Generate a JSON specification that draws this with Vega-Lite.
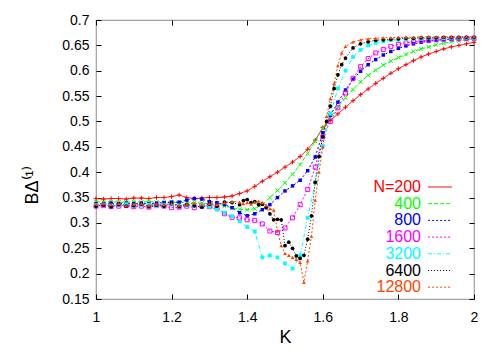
{
  "$schema": "https://vega.github.io/schema/vega-lite/v6.json",
  "width": 378,
  "height": 279,
  "autosize": "none",
  "padding": {"left": 96, "top": 20, "right": 26, "bottom": 51},
  "config": {
    "font": "Liberation Sans",
    "view": {"stroke": "#a0a0a0", "strokeWidth": 1.2},
    "axis": {"grid": false, "domain": false, "tickColor": "#000000", "tickSize": -5, "labelColor": "#000000", "titleColor": "#000000", "labelFontSize": 14, "titleFontSize": 18, "titleFontWeight": "normal", "labelFlush": false},
    "point": {"size": 14, "strokeWidth": 1, "opacity": 1, "clip": true}
  },
  "resolve": {"axis": {"x": "independent", "y": "independent"}},
  "data": {"values": [
    {"s":"N=200","K":1.00,"B":0.348},{"s":"N=200","K":1.02,"B":0.347},{"s":"N=200","K":1.04,"B":0.348},{"s":"N=200","K":1.06,"B":0.348},{"s":"N=200","K":1.08,"B":0.347},{"s":"N=200","K":1.10,"B":0.349},{"s":"N=200","K":1.12,"B":0.349},{"s":"N=200","K":1.14,"B":0.348},{"s":"N=200","K":1.16,"B":0.350},{"s":"N=200","K":1.18,"B":0.350},{"s":"N=200","K":1.20,"B":0.352},{"s":"N=200","K":1.22,"B":0.355},{"s":"N=200","K":1.24,"B":0.350},{"s":"N=200","K":1.26,"B":0.348},{"s":"N=200","K":1.28,"B":0.349},{"s":"N=200","K":1.30,"B":0.350},{"s":"N=200","K":1.32,"B":0.350},{"s":"N=200","K":1.34,"B":0.351},{"s":"N=200","K":1.36,"B":0.353},{"s":"N=200","K":1.38,"B":0.358},{"s":"N=200","K":1.40,"B":0.363},{"s":"N=200","K":1.42,"B":0.372},{"s":"N=200","K":1.44,"B":0.382},{"s":"N=200","K":1.46,"B":0.391},{"s":"N=200","K":1.48,"B":0.400},{"s":"N=200","K":1.50,"B":0.410},{"s":"N=200","K":1.52,"B":0.420},{"s":"N=200","K":1.54,"B":0.431},{"s":"N=200","K":1.56,"B":0.445},{"s":"N=200","K":1.58,"B":0.463},{"s":"N=200","K":1.60,"B":0.488},{"s":"N=200","K":1.62,"B":0.502},{"s":"N=200","K":1.64,"B":0.515},{"s":"N=200","K":1.66,"B":0.528},{"s":"N=200","K":1.68,"B":0.541},{"s":"N=200","K":1.70,"B":0.553},{"s":"N=200","K":1.72,"B":0.564},{"s":"N=200","K":1.74,"B":0.575},{"s":"N=200","K":1.76,"B":0.585},{"s":"N=200","K":1.78,"B":0.595},{"s":"N=200","K":1.80,"B":0.604},{"s":"N=200","K":1.82,"B":0.612},{"s":"N=200","K":1.84,"B":0.620},{"s":"N=200","K":1.86,"B":0.627},{"s":"N=200","K":1.88,"B":0.633},{"s":"N=200","K":1.90,"B":0.638},{"s":"N=200","K":1.92,"B":0.643},{"s":"N=200","K":1.94,"B":0.647},{"s":"N=200","K":1.96,"B":0.650},{"s":"N=200","K":1.98,"B":0.653},{"s":"N=200","K":2.00,"B":0.656},
    {"s":"400","K":1.00,"B":0.342},{"s":"400","K":1.02,"B":0.341},{"s":"400","K":1.04,"B":0.342},{"s":"400","K":1.06,"B":0.341},{"s":"400","K":1.08,"B":0.341},{"s":"400","K":1.10,"B":0.342},{"s":"400","K":1.12,"B":0.341},{"s":"400","K":1.14,"B":0.342},{"s":"400","K":1.16,"B":0.341},{"s":"400","K":1.18,"B":0.342},{"s":"400","K":1.20,"B":0.341},{"s":"400","K":1.22,"B":0.340},{"s":"400","K":1.24,"B":0.341},{"s":"400","K":1.26,"B":0.340},{"s":"400","K":1.28,"B":0.339},{"s":"400","K":1.30,"B":0.338},{"s":"400","K":1.32,"B":0.336},{"s":"400","K":1.34,"B":0.333},{"s":"400","K":1.36,"B":0.330},{"s":"400","K":1.38,"B":0.327},{"s":"400","K":1.40,"B":0.326},{"s":"400","K":1.42,"B":0.328},{"s":"400","K":1.44,"B":0.336},{"s":"400","K":1.46,"B":0.350},{"s":"400","K":1.48,"B":0.364},{"s":"400","K":1.50,"B":0.379},{"s":"400","K":1.52,"B":0.396},{"s":"400","K":1.54,"B":0.415},{"s":"400","K":1.56,"B":0.437},{"s":"400","K":1.58,"B":0.461},{"s":"400","K":1.60,"B":0.487},{"s":"400","K":1.62,"B":0.508},{"s":"400","K":1.64,"B":0.528},{"s":"400","K":1.66,"B":0.547},{"s":"400","K":1.68,"B":0.563},{"s":"400","K":1.70,"B":0.578},{"s":"400","K":1.72,"B":0.591},{"s":"400","K":1.74,"B":0.601},{"s":"400","K":1.76,"B":0.611},{"s":"400","K":1.78,"B":0.619},{"s":"400","K":1.80,"B":0.626},{"s":"400","K":1.82,"B":0.632},{"s":"400","K":1.84,"B":0.638},{"s":"400","K":1.86,"B":0.643},{"s":"400","K":1.88,"B":0.647},{"s":"400","K":1.90,"B":0.651},{"s":"400","K":1.92,"B":0.654},{"s":"400","K":1.94,"B":0.657},{"s":"400","K":1.96,"B":0.659},{"s":"400","K":1.98,"B":0.661},{"s":"400","K":2.00,"B":0.663},
    {"s":"800","K":1.00,"B":0.338},{"s":"800","K":1.02,"B":0.338},{"s":"800","K":1.04,"B":0.339},{"s":"800","K":1.06,"B":0.338},{"s":"800","K":1.08,"B":0.339},{"s":"800","K":1.10,"B":0.338},{"s":"800","K":1.12,"B":0.339},{"s":"800","K":1.14,"B":0.338},{"s":"800","K":1.16,"B":0.339},{"s":"800","K":1.18,"B":0.340},{"s":"800","K":1.20,"B":0.341},{"s":"800","K":1.22,"B":0.341},{"s":"800","K":1.24,"B":0.345},{"s":"800","K":1.26,"B":0.348},{"s":"800","K":1.28,"B":0.347},{"s":"800","K":1.30,"B":0.342},{"s":"800","K":1.32,"B":0.340},{"s":"800","K":1.34,"B":0.336},{"s":"800","K":1.36,"B":0.330},{"s":"800","K":1.38,"B":0.320},{"s":"800","K":1.40,"B":0.314},{"s":"800","K":1.42,"B":0.318},{"s":"800","K":1.44,"B":0.326},{"s":"800","K":1.46,"B":0.336},{"s":"800","K":1.48,"B":0.350},{"s":"800","K":1.50,"B":0.363},{"s":"800","K":1.52,"B":0.373},{"s":"800","K":1.54,"B":0.384},{"s":"800","K":1.56,"B":0.403},{"s":"800","K":1.58,"B":0.430},{"s":"800","K":1.60,"B":0.478},{"s":"800","K":1.62,"B":0.512},{"s":"800","K":1.64,"B":0.538},{"s":"800","K":1.66,"B":0.562},{"s":"800","K":1.68,"B":0.583},{"s":"800","K":1.70,"B":0.599},{"s":"800","K":1.72,"B":0.612},{"s":"800","K":1.74,"B":0.622},{"s":"800","K":1.76,"B":0.631},{"s":"800","K":1.78,"B":0.638},{"s":"800","K":1.80,"B":0.644},{"s":"800","K":1.82,"B":0.649},{"s":"800","K":1.84,"B":0.653},{"s":"800","K":1.86,"B":0.656},{"s":"800","K":1.88,"B":0.658},{"s":"800","K":1.90,"B":0.660},{"s":"800","K":1.92,"B":0.661},{"s":"800","K":1.94,"B":0.662},{"s":"800","K":1.96,"B":0.663},{"s":"800","K":1.98,"B":0.663},{"s":"800","K":2.00,"B":0.664},
    {"s":"1600","K":1.00,"B":0.333},{"s":"1600","K":1.02,"B":0.334},{"s":"1600","K":1.04,"B":0.332},{"s":"1600","K":1.06,"B":0.333},{"s":"1600","K":1.08,"B":0.334},{"s":"1600","K":1.10,"B":0.332},{"s":"1600","K":1.12,"B":0.333},{"s":"1600","K":1.14,"B":0.331},{"s":"1600","K":1.16,"B":0.334},{"s":"1600","K":1.18,"B":0.333},{"s":"1600","K":1.20,"B":0.330},{"s":"1600","K":1.22,"B":0.331},{"s":"1600","K":1.24,"B":0.333},{"s":"1600","K":1.26,"B":0.330},{"s":"1600","K":1.28,"B":0.333},{"s":"1600","K":1.30,"B":0.332},{"s":"1600","K":1.32,"B":0.330},{"s":"1600","K":1.34,"B":0.318},{"s":"1600","K":1.36,"B":0.311},{"s":"1600","K":1.38,"B":0.310},{"s":"1600","K":1.40,"B":0.306},{"s":"1600","K":1.42,"B":0.305},{"s":"1600","K":1.44,"B":0.298},{"s":"1600","K":1.46,"B":0.284},{"s":"1600","K":1.48,"B":0.281},{"s":"1600","K":1.50,"B":0.290},{"s":"1600","K":1.52,"B":0.310},{"s":"1600","K":1.54,"B":0.336},{"s":"1600","K":1.56,"B":0.366},{"s":"1600","K":1.58,"B":0.410},{"s":"1600","K":1.60,"B":0.470},{"s":"1600","K":1.62,"B":0.500},{"s":"1600","K":1.64,"B":0.527},{"s":"1600","K":1.66,"B":0.556},{"s":"1600","K":1.68,"B":0.585},{"s":"1600","K":1.70,"B":0.608},{"s":"1600","K":1.72,"B":0.624},{"s":"1600","K":1.74,"B":0.635},{"s":"1600","K":1.76,"B":0.642},{"s":"1600","K":1.78,"B":0.648},{"s":"1600","K":1.80,"B":0.652},{"s":"1600","K":1.82,"B":0.655},{"s":"1600","K":1.84,"B":0.657},{"s":"1600","K":1.86,"B":0.659},{"s":"1600","K":1.88,"B":0.660},{"s":"1600","K":1.90,"B":0.661},{"s":"1600","K":1.92,"B":0.662},{"s":"1600","K":1.94,"B":0.663},{"s":"1600","K":1.96,"B":0.663},{"s":"1600","K":1.98,"B":0.664},{"s":"1600","K":2.00,"B":0.664},
    {"s":"3200","K":1.00,"B":0.335},{"s":"3200","K":1.02,"B":0.336},{"s":"3200","K":1.04,"B":0.334},{"s":"3200","K":1.06,"B":0.335},{"s":"3200","K":1.08,"B":0.337},{"s":"3200","K":1.10,"B":0.334},{"s":"3200","K":1.12,"B":0.335},{"s":"3200","K":1.14,"B":0.336},{"s":"3200","K":1.16,"B":0.333},{"s":"3200","K":1.18,"B":0.335},{"s":"3200","K":1.20,"B":0.336},{"s":"3200","K":1.22,"B":0.334},{"s":"3200","K":1.24,"B":0.335},{"s":"3200","K":1.26,"B":0.333},{"s":"3200","K":1.28,"B":0.334},{"s":"3200","K":1.30,"B":0.332},{"s":"3200","K":1.32,"B":0.326},{"s":"3200","K":1.34,"B":0.320},{"s":"3200","K":1.36,"B":0.313},{"s":"3200","K":1.38,"B":0.303},{"s":"3200","K":1.40,"B":0.292},{"s":"3200","K":1.42,"B":0.283},{"s":"3200","K":1.44,"B":0.232},{"s":"3200","K":1.46,"B":0.236},{"s":"3200","K":1.48,"B":0.232},{"s":"3200","K":1.50,"B":0.220},{"s":"3200","K":1.52,"B":0.210},{"s":"3200","K":1.54,"B":0.236},{"s":"3200","K":1.56,"B":0.310},{"s":"3200","K":1.58,"B":0.380},{"s":"3200","K":1.60,"B":0.452},{"s":"3200","K":1.62,"B":0.515},{"s":"3200","K":1.64,"B":0.565},{"s":"3200","K":1.66,"B":0.600},{"s":"3200","K":1.68,"B":0.627},{"s":"3200","K":1.70,"B":0.641},{"s":"3200","K":1.72,"B":0.650},{"s":"3200","K":1.74,"B":0.655},{"s":"3200","K":1.76,"B":0.658},{"s":"3200","K":1.78,"B":0.660},{"s":"3200","K":1.80,"B":0.661},{"s":"3200","K":1.82,"B":0.662},{"s":"3200","K":1.84,"B":0.663},{"s":"3200","K":1.86,"B":0.663},{"s":"3200","K":1.88,"B":0.664},{"s":"3200","K":1.90,"B":0.664},{"s":"3200","K":1.92,"B":0.664},{"s":"3200","K":1.94,"B":0.665},{"s":"3200","K":1.96,"B":0.665},{"s":"3200","K":1.98,"B":0.665},{"s":"3200","K":2.00,"B":0.665},
    {"s":"6400","K":1.00,"B":0.333},{"s":"6400","K":1.02,"B":0.335},{"s":"6400","K":1.04,"B":0.332},{"s":"6400","K":1.06,"B":0.336},{"s":"6400","K":1.08,"B":0.333},{"s":"6400","K":1.10,"B":0.334},{"s":"6400","K":1.12,"B":0.337},{"s":"6400","K":1.14,"B":0.332},{"s":"6400","K":1.16,"B":0.335},{"s":"6400","K":1.18,"B":0.333},{"s":"6400","K":1.20,"B":0.338},{"s":"6400","K":1.22,"B":0.332},{"s":"6400","K":1.24,"B":0.336},{"s":"6400","K":1.26,"B":0.334},{"s":"6400","K":1.28,"B":0.331},{"s":"6400","K":1.30,"B":0.337},{"s":"6400","K":1.32,"B":0.333},{"s":"6400","K":1.34,"B":0.341},{"s":"6400","K":1.36,"B":0.340},{"s":"6400","K":1.38,"B":0.336},{"s":"6400","K":1.39,"B":0.344},{"s":"6400","K":1.40,"B":0.346},{"s":"6400","K":1.41,"B":0.340},{"s":"6400","K":1.42,"B":0.342},{"s":"6400","K":1.43,"B":0.336},{"s":"6400","K":1.44,"B":0.337},{"s":"6400","K":1.45,"B":0.330},{"s":"6400","K":1.46,"B":0.318},{"s":"6400","K":1.47,"B":0.306},{"s":"6400","K":1.48,"B":0.307},{"s":"6400","K":1.49,"B":0.306},{"s":"6400","K":1.50,"B":0.255},{"s":"6400","K":1.51,"B":0.262},{"s":"6400","K":1.52,"B":0.250},{"s":"6400","K":1.53,"B":0.235},{"s":"6400","K":1.54,"B":0.230},{"s":"6400","K":1.55,"B":0.236},{"s":"6400","K":1.56,"B":0.268},{"s":"6400","K":1.57,"B":0.314},{"s":"6400","K":1.58,"B":0.380},{"s":"6400","K":1.59,"B":0.431},{"s":"6400","K":1.60,"B":0.470},{"s":"6400","K":1.61,"B":0.500},{"s":"6400","K":1.62,"B":0.530},{"s":"6400","K":1.63,"B":0.565},{"s":"6400","K":1.64,"B":0.592},{"s":"6400","K":1.65,"B":0.612},{"s":"6400","K":1.66,"B":0.625},{"s":"6400","K":1.68,"B":0.645},{"s":"6400","K":1.70,"B":0.653},{"s":"6400","K":1.72,"B":0.657},{"s":"6400","K":1.74,"B":0.660},{"s":"6400","K":1.76,"B":0.661},{"s":"6400","K":1.78,"B":0.662},{"s":"6400","K":1.80,"B":0.663},{"s":"6400","K":1.82,"B":0.664},{"s":"6400","K":1.84,"B":0.664},{"s":"6400","K":1.86,"B":0.665},{"s":"6400","K":1.88,"B":0.665},{"s":"6400","K":1.90,"B":0.665},{"s":"6400","K":1.92,"B":0.666},{"s":"6400","K":1.94,"B":0.666},{"s":"6400","K":1.96,"B":0.666},{"s":"6400","K":1.98,"B":0.666},{"s":"6400","K":2.00,"B":0.666},
    {"s":"12800","K":1.00,"B":0.337},{"s":"12800","K":1.02,"B":0.338},{"s":"12800","K":1.04,"B":0.336},{"s":"12800","K":1.06,"B":0.338},{"s":"12800","K":1.08,"B":0.334},{"s":"12800","K":1.10,"B":0.337},{"s":"12800","K":1.12,"B":0.338},{"s":"12800","K":1.14,"B":0.335},{"s":"12800","K":1.16,"B":0.337},{"s":"12800","K":1.18,"B":0.336},{"s":"12800","K":1.20,"B":0.338},{"s":"12800","K":1.22,"B":0.335},{"s":"12800","K":1.24,"B":0.337},{"s":"12800","K":1.26,"B":0.339},{"s":"12800","K":1.28,"B":0.336},{"s":"12800","K":1.30,"B":0.338},{"s":"12800","K":1.32,"B":0.336},{"s":"12800","K":1.34,"B":0.340},{"s":"12800","K":1.36,"B":0.342},{"s":"12800","K":1.38,"B":0.341},{"s":"12800","K":1.39,"B":0.338},{"s":"12800","K":1.40,"B":0.340},{"s":"12800","K":1.41,"B":0.337},{"s":"12800","K":1.42,"B":0.341},{"s":"12800","K":1.43,"B":0.343},{"s":"12800","K":1.44,"B":0.340},{"s":"12800","K":1.45,"B":0.335},{"s":"12800","K":1.46,"B":0.328},{"s":"12800","K":1.47,"B":0.325},{"s":"12800","K":1.48,"B":0.285},{"s":"12800","K":1.49,"B":0.255},{"s":"12800","K":1.50,"B":0.240},{"s":"12800","K":1.51,"B":0.236},{"s":"12800","K":1.52,"B":0.232},{"s":"12800","K":1.53,"B":0.228},{"s":"12800","K":1.54,"B":0.222},{"s":"12800","K":1.55,"B":0.183},{"s":"12800","K":1.56,"B":0.225},{"s":"12800","K":1.57,"B":0.274},{"s":"12800","K":1.58,"B":0.345},{"s":"12800","K":1.59,"B":0.400},{"s":"12800","K":1.60,"B":0.450},{"s":"12800","K":1.61,"B":0.510},{"s":"12800","K":1.62,"B":0.545},{"s":"12800","K":1.63,"B":0.575},{"s":"12800","K":1.64,"B":0.610},{"s":"12800","K":1.65,"B":0.635},{"s":"12800","K":1.66,"B":0.648},{"s":"12800","K":1.68,"B":0.657},{"s":"12800","K":1.70,"B":0.661},{"s":"12800","K":1.72,"B":0.663},{"s":"12800","K":1.74,"B":0.664},{"s":"12800","K":1.76,"B":0.665},{"s":"12800","K":1.78,"B":0.665},{"s":"12800","K":1.80,"B":0.666},{"s":"12800","K":1.82,"B":0.666},{"s":"12800","K":1.84,"B":0.666},{"s":"12800","K":1.86,"B":0.667},{"s":"12800","K":1.88,"B":0.667},{"s":"12800","K":1.90,"B":0.667},{"s":"12800","K":1.92,"B":0.667},{"s":"12800","K":1.94,"B":0.667},{"s":"12800","K":1.96,"B":0.667},{"s":"12800","K":1.98,"B":0.667},{"s":"12800","K":2.00,"B":0.667}
  ]},
  "layer": [
    {
      "mark": {"type": "line", "strokeWidth": 1, "clip": true},
      "encoding": {
        "x": {"field": "K", "type": "quantitative", "scale": {"domain": [1, 2]}, "axis": {"values": [1, 1.2, 1.4, 1.6, 1.8, 2], "format": "~g", "title": "K", "labelPadding": 16, "titlePadding": 4}},
        "y": {"field": "B", "type": "quantitative", "scale": {"domain": [0.15, 0.7]}, "axis": {"values": [0.15, 0.2, 0.25, 0.3, 0.35, 0.4, 0.45, 0.5, 0.55, 0.6, 0.65, 0.7], "format": "~g", "title": "BΔ⁽¹⁾", "labelPadding": 12, "titlePadding": 20, "titleY": 165}},
        "color": {"field": "s", "type": "nominal", "sort": ["N=200", "400", "800", "1600", "3200", "6400", "12800"],
          "scale": {"domain": ["N=200", "400", "800", "1600", "3200", "6400", "12800"], "range": ["#ff0000", "#00ff00", "#0000ff", "#ff00ff", "#00ffff", "#000000", "#ff4500"]},
          "legend": {"title": null, "orient": "none", "legendX": 336, "legendY": 159, "symbolType": "M-1.7,0H1.7", "symbolSize": 196, "symbolStrokeWidth": 1, "labelAlign": "right", "labelOffset": -27, "labelFontSize": 16, "labelFont": "Liberation Sans", "rowPadding": 0.7, "padding": 0,
            "encode": {"labels": {"update": {"fill": {"scale": "color", "field": "value"}}}, "symbols": {"update": {"fill": {"value": "transparent"}}}}}},
        "strokeDash": {"field": "s", "type": "nominal", "sort": ["N=200", "400", "800", "1600", "3200", "6400", "12800"],
          "scale": {"domain": ["N=200", "400", "800", "1600", "3200", "6400", "12800"], "range": [[1, 0], [4, 2], [2, 2], [2, 2], [4, 2, 1, 2], [1, 2], [2, 2]]},
          "legend": {"title": null, "orient": "none", "legendX": 336, "legendY": 159, "symbolType": "M-1.7,0H1.7", "symbolSize": 196, "symbolStrokeWidth": 1, "labelAlign": "right", "labelOffset": -27, "labelFontSize": 16, "labelFont": "Liberation Sans", "rowPadding": 0.7, "padding": 0,
            "encode": {"labels": {"update": {"fill": {"scale": "color", "field": "value"}}}, "symbols": {"update": {"fill": {"value": "transparent"}}}}}}
      }
    },
    {
      "transform": [{"filter": {"field": "s", "equal": "N=200"}}],
      "mark": {"type": "point", "shape": "M-1,0H1M0,-1V1", "filled": false, "color": "#ff0000", "size": 20},
      "encoding": {
        "x": {"field": "K", "type": "quantitative", "axis": {"orient": "top", "values": [1, 1.2, 1.4, 1.6, 1.8, 2], "labels": false, "title": null}},
        "y": {"field": "B", "type": "quantitative", "axis": {"orient": "right", "values": [0.15, 0.2, 0.25, 0.3, 0.35, 0.4, 0.45, 0.5, 0.55, 0.6, 0.65, 0.7], "labels": false, "title": null}}
      }
    },
    {
      "transform": [{"filter": {"field": "s", "equal": "400"}}],
      "mark": {"type": "point", "shape": "M-1,-1L1,1M-1,1L1,-1", "filled": false, "color": "#00ff00", "size": 16},
      "encoding": {"x": {"field": "K", "type": "quantitative", "axis": null}, "y": {"field": "B", "type": "quantitative", "axis": null}}
    },
    {
      "transform": [{"filter": {"field": "s", "equal": "800"}}],
      "mark": {"type": "point", "shape": "square", "filled": true, "color": "#0000ff", "size": 12},
      "encoding": {"x": {"field": "K", "type": "quantitative", "axis": null}, "y": {"field": "B", "type": "quantitative", "axis": null}}
    },
    {
      "transform": [{"filter": {"field": "s", "equal": "1600"}}],
      "mark": {"type": "point", "shape": "square", "filled": false, "color": "#ff00ff", "size": 16},
      "encoding": {"x": {"field": "K", "type": "quantitative", "axis": null}, "y": {"field": "B", "type": "quantitative", "axis": null}}
    },
    {
      "transform": [{"filter": {"field": "s", "equal": "3200"}}],
      "mark": {"type": "point", "shape": "square", "filled": true, "color": "#00ffff", "size": 14},
      "encoding": {"x": {"field": "K", "type": "quantitative", "axis": null}, "y": {"field": "B", "type": "quantitative", "axis": null}}
    },
    {
      "transform": [{"filter": {"field": "s", "equal": "6400"}}],
      "mark": {"type": "point", "shape": "circle", "filled": true, "color": "#000000", "size": 14},
      "encoding": {"x": {"field": "K", "type": "quantitative", "axis": null}, "y": {"field": "B", "type": "quantitative", "axis": null}}
    },
    {
      "transform": [{"filter": {"field": "s", "equal": "12800"}}],
      "mark": {"type": "point", "shape": "triangle-up", "filled": true, "color": "#ff4500", "size": 14},
      "encoding": {"x": {"field": "K", "type": "quantitative", "axis": null}, "y": {"field": "B", "type": "quantitative", "axis": null}}
    }
  ]
}
